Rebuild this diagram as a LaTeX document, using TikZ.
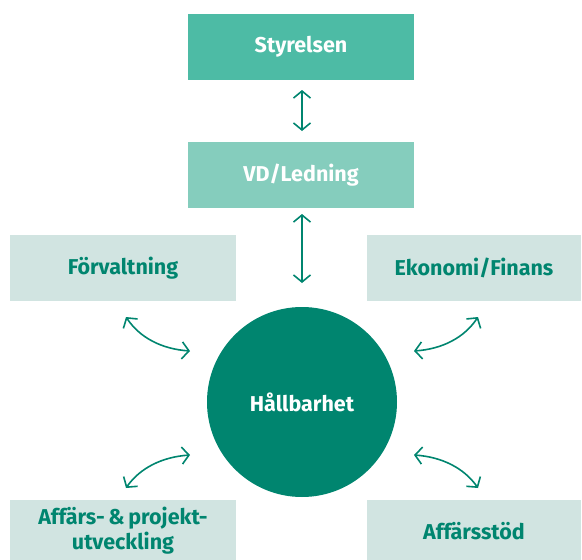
\documentclass[tikz,border=0pt]{standalone}
\usepackage{fontspec}
\setmainfont{Fira Sans}
\usetikzlibrary{arrows.meta}
\definecolor{dark}{HTML}{00856F}
\definecolor{mid}{HTML}{4DBBA5}
\definecolor{lightm}{HTML}{85CDBD}
\definecolor{pale}{HTML}{D1E4E1}
\begin{document}
\begin{tikzpicture}[x=1pt,y=-1pt,
  box/.style={minimum width=226pt,minimum height=66pt,inner sep=0pt,align=center,font=\fontsize{21.5}{25}\selectfont\bfseries},
  topbox/.style={box,fill=#1,text=white},
  sidebox/.style={box,fill=pale,text=dark},
  conn/.style={draw=dark,line width=1.6pt,{Straight Barb[length=7pt,width=17pt]}-{Straight Barb[length=7pt,width=17pt]}}]
\useasboundingbox (0,0) rectangle (582,560);
\node[topbox=mid] (sty) at (301,46.5) {Styrelsen};
\node[topbox=lightm] (vd) at (301,175) {VD/Ledning};
\node[sidebox] (forv) at (123,268) {Förvaltning};
\node[sidebox,minimum width=214pt] (eko) at (474,268) {Ekonomi/Finans};
\node[sidebox,minimum height=62pt] (aff) at (123,531) {Affärs-\,\&\,projekt-\\utveckling};
\node[sidebox,minimum width=214pt,minimum height=62pt] (stod) at (474,531) {Affärsstöd};
\node[circle,fill=dark,minimum size=190pt,inner sep=0pt,text=white,font=\fontsize{21.5}{25}\selectfont\bfseries] (hall) at (302,402) {Hållbarhet};
\coordinate (a1) at (302,90); \coordinate (a2) at (302,131);
\coordinate (b1) at (302,214); \coordinate (b2) at (302,283);
\coordinate (c1) at (126,317); \coordinate (c2) at (190,351);
\coordinate (d1) at (478,317); \coordinate (d2) at (414,351);
\coordinate (e1) at (190,455); \coordinate (e2) at (126,488);
\coordinate (f1) at (414,455); \coordinate (f2) at (478,488);
\draw[conn] (a1) -- (a2);
\draw[conn] (b1) -- (b2);
\draw[conn] (c1) .. controls (140,338) and (162,349) .. (c2);
\draw[conn] (d1) .. controls (464,338) and (442,349) .. (d2);
\draw[conn] (e1) .. controls (162,457) and (140,468) .. (e2);
\draw[conn] (f1) .. controls (442,457) and (464,468) .. (f2);
\end{tikzpicture}
\end{document}
